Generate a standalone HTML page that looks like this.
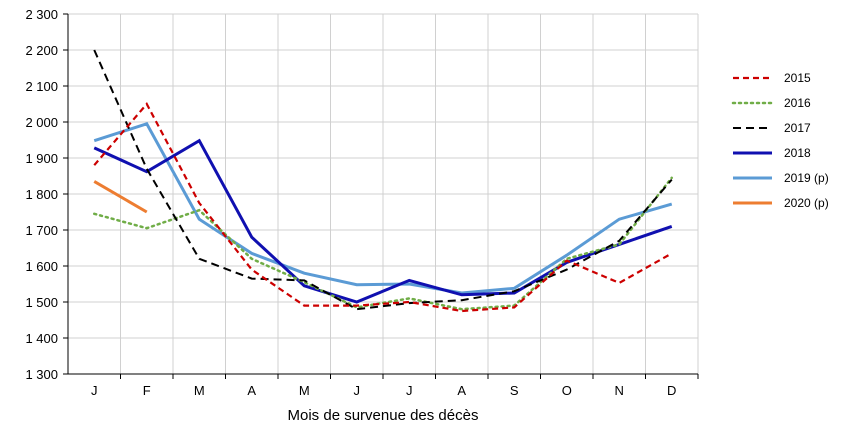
<!DOCTYPE html>
<html><head><meta charset="utf-8"><style>body{margin:0;background:#fff}svg{font-family:"Liberation Sans",sans-serif}</style></head>
<body>
<svg id="chart" width="853" height="432"></svg>
<script>
const months=["J","F","M","A","M","J","J","A","S","O","N","D"];
const yTicks=[1300,1400,1500,1600,1700,1800,1900,2000,2100,2200,2300];
const seriesNames=["2015","2016","2017","2018","2019 (p)","2020 (p)"];
const s2015=[1880,2050,1775,1590,1490,1490,1500,1475,1485,1615,1553,1635];
const s2016=[1745,1705,1755,1620,1555,1485,1510,1480,1490,1620,1660,1845];
const s2017=[2200,1870,1620,1565,1560,1480,1497,1505,1530,1590,1670,1840];
const s2018=[1928,1862,1948,1680,1545,1500,1560,1520,1525,1610,1660,1710];
const s2019=[1948,1995,1730,1635,1580,1548,1550,1525,1538,1630,1730,1772];
const s2020=[1835,1750];
const svg=document.getElementById('chart');const NS='http://www.w3.org/2000/svg';
const L=68,R=698,T=14,B=374,cw=(R-L)/12;
const x=i=>L+cw*(i+0.5), y=v=>B-(v-1300)/1000*(B-T);
function mk(t,a){const e=document.createElementNS(NS,t);for(const k in a)e.setAttribute(k,a[k]);svg.appendChild(e);return e;}
yTicks.forEach(v=>{const g=mk('line',{x1:L,x2:R,y1:y(v),y2:y(v),stroke:'#d0d0d0','stroke-width':1});


const t=mk('text',{x:L-10,y:y(v)+5,'text-anchor':'end','font-size':13});t.textContent=v.toLocaleString('en').replace(',',' ');


mk('line',{x1:L-5,x2:L,y1:y(v),y2:y(v),stroke:'#000'});});
for(let i=1;i<=12;i++){const g=mk('line',{x1:L+cw*i,x2:L+cw*i,y1:T,y2:B,stroke:'#d0d0d0'});


mk('line',{x1:L+cw*i,x2:L+cw*i,y1:B,y2:B+5,stroke:'#000'});}
mk('line',{x1:L,x2:L,y1:T,y2:B,stroke:'#000'});mk('line',{x1:L,x2:R,y1:B,y2:B,stroke:'#000'});
months.forEach((m,i)=>{const t=mk('text',{x:x(i),y:B+21,'text-anchor':'middle','font-size':13});t.textContent=m;

});
const xt=mk('text',{x:(L+R)/2,y:420,'text-anchor':'middle','font-size':15});xt.textContent='Mois de survenue des décès';


const data=[s2015,s2016,s2017,s2018,s2019,s2020];
const styles=[{c:'#cc0000',w:2.2,d:'6,4'},{c:'#70ad47',w:2.5,d:'2,4'},{c:'#000',w:2,d:'8,5'},{c:'#1010b0',w:3,d:''},{c:'#5b9bd5',w:3,d:''},{c:'#ed7d31',w:3,d:''}];
const order=[4,3,1,2,0,5];
order.forEach(k=>{const st=styles[k];const p=mk('polyline',{points:data[k].map((v,i)=>x(i)+','+y(v)).join(' '),fill:'none',stroke:st.c,'stroke-width':st.w,'stroke-dasharray':st.d,'stroke-linecap':st.d==='2,4'?'round':'butt'});

});
seriesNames.forEach((n,k)=>{const st=styles[k];const yy=78+k*25;
const l=mk('line',{x1:733,x2:772,y1:yy,y2:yy,stroke:st.c,'stroke-width':st.w,'stroke-dasharray':st.d,'stroke-linecap':st.d==='2,4'?'round':'butt'});


const t=mk('text',{x:784,y:yy+4,'font-size':12});t.textContent=n;

});
</script>
</body></html>
